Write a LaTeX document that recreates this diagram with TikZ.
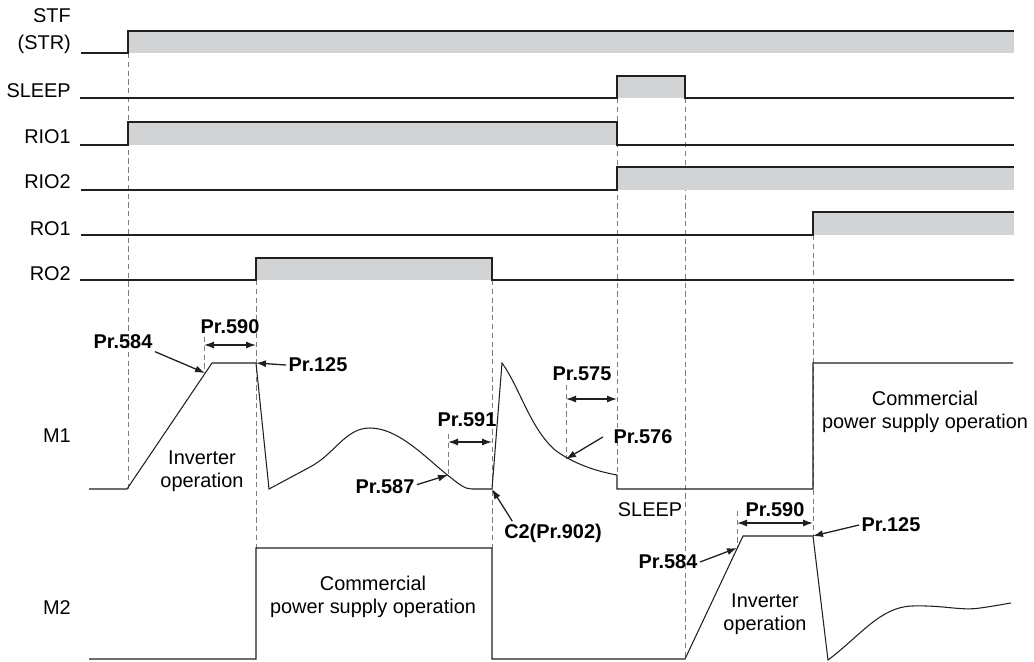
\documentclass[tikz,border=0pt]{standalone}
\usepackage{fontspec}
\setmainfont{Liberation Sans}
\usetikzlibrary{arrows.meta}
\definecolor{sigfill}{RGB}{209,211,212}
\definecolor{guidegray}{RGB}{125,125,125}
\definecolor{ink}{RGB}{35,31,32}
\tikzset{
  sig/.style={draw=ink,line width=0.9pt},
  hi/.style={fill=sigfill},
  guide/.style={draw=guidegray,line width=0.8pt,dash pattern=on 4.5pt off 3pt},
  lab/.style={anchor=east,inner sep=0pt,font=\fontsize{17}{19}\selectfont},
  txt/.style={align=center,inner sep=0pt,font=\fontsize{17}{19.5}\selectfont},
  par/.style={inner sep=2pt,font=\fontsize{17}{19}\selectfont\bfseries},
  span/.style={ink,line width=1.1pt,{Latex[length=3mm,width=2.1mm]}-{Latex[length=3mm,width=2.1mm]}},
  ptr/.style={ink,line width=1.1pt,-{Latex[length=3mm,width=2.1mm]}}
}

\begin{document}
\begin{tikzpicture}[x=0.03cm,y=-0.03cm]
    \useasboundingbox (0,0) rectangle (1034,661);
    % signal names
    \node[lab,align=right] (stf) at (71,31) {STF\\[4pt](STR)};
    \node[lab] (sleep) at (71,91) {SLEEP};
    \node[lab] (rio1) at (71,137) {RIO1}; \node[lab] (rio2) at (71,182) {RIO2};
    \node[lab] (ro1) at (71,229) {RO1}; \node[lab] (ro2) at (71,274) {RO2};
    \node[lab] (m1) at (71,436) {M1}; \node[lab] (m2) at (71,608) {M2};
    % dashed guides
    \draw[guide] (128,53) -- (128,489); \draw[guide] (256,280) -- (256,548);
    \draw[guide] (492,280) -- (492,548); \draw[guide] (617,98) -- (617,475);
    \draw[guide] (685,98) -- (685,659); \draw[guide] (813,235) -- (813,536);
    \draw[guide] (204,337) -- (204,372); \draw[guide] (448,434) -- (448,476);
    \draw[guide] (566,385) -- (566,459); \draw[guide] (737,511) -- (737,548);
    % on/off signals
    \fill[hi] (128,31) rectangle (1014,53);
    \draw[sig] (81,53) -- (128,53) -- (128,31) -- (1014,31);
    \fill[hi] (617,76) rectangle (685,98);
    \draw[sig] (80,98) -- (617,98) -- (617,76) -- (685,76) -- (685,98) -- (1014,98);
    \fill[hi] (128,122) rectangle (617,145);
    \draw[sig] (80,145) -- (128,145) -- (128,122) -- (617,122) -- (617,145) -- (1014,145);
    \fill[hi] (617,167) rectangle (1014,190);
    \draw[sig] (81,190) -- (617,190) -- (617,167) -- (1014,167);
    \fill[hi] (813,212) rectangle (1014,235);
    \draw[sig] (81,235) -- (813,235) -- (813,212) -- (1014,212);
    \fill[hi] (256,258) rectangle (492,280);
    \draw[sig] (80,280) -- (256,280) -- (256,258) -- (492,258) -- (492,280) -- (1014,280);
    % M1 speed
    \draw[sig] (89,489) -- (127,489) -- (212,363) -- (256,363) -- (269,489) -- (310,467)
      .. controls (335,454) and (345,428) .. (370,428)
      .. controls (400,428) and (430,462) .. (450,477)
      .. controls (460,485) and (465,489) .. (472,489) -- (492,489) -- (502,363)
      .. controls (520,388) and (530,428) .. (555,450)
      .. controls (575,465) and (600,472) .. (617,475) -- (617,489) -- (813,489)
      -- (813,363) -- (1013,363);
    % M2 speed
    \draw[sig] (89,659) -- (256,659) -- (256,548) -- (492,548) -- (492,659) -- (685,659)
      -- (743,536) -- (813,536) -- (828,660)
      .. controls (860,636) and (880,607) .. (912,606)
      .. controls (945,605) and (960,611) .. (980,608)
      .. controls (995,606) and (1004,604) .. (1011,603);
    % operation texts
    \node[txt] (inv1) at (202,471) {Inverter\\operation};
    \node[txt] (com2) at (373,597) {Commercial\\power supply operation};
    \node[txt] (com1) at (925,412) {Commercial\\power supply operation};
    \node[txt] (slp) at (650,510) {SLEEP};
    \node[txt] (inv2) at (765,614) {Inverter\\operation};
    % parameter labels
    \coordinate (a590l) at (204,345); \coordinate (a590r) at (256,345);
    \coordinate (a591l) at (448,442); \coordinate (a591r) at (492,442);
    \coordinate (a575l) at (566,399); \coordinate (a575r) at (617,399);
    \coordinate (b590l) at (737,523); \coordinate (b590r) at (813,523);
    \coordinate (t584a) at (205,373); \coordinate (t125a) at (256,363);
    \coordinate (t587) at (448,475); \coordinate (t902) at (492,489);
    \coordinate (t576) at (566,459); \coordinate (t584b) at (737,548);
    \coordinate (t125b) at (813,536);
    \node[par] (p584a) at (123,342) {Pr.584}; \node[par] (p590a) at (230,327) {Pr.590};
    \node[par] (p125a) at (318,365) {Pr.125}; \node[par] (p591) at (467,420) {Pr.591};
    \node[par] (p587) at (385,487) {Pr.587}; \node[par] (c2) at (553,533) {C2(Pr.902)};
    \node[par] (p575) at (582,374) {Pr.575}; \node[par] (p576) at (643,437) {Pr.576};
    \node[par] (p590b) at (775,510) {Pr.590}; \node[par] (p584b) at (668,562) {Pr.584};
    \node[par] (p125b) at (891,525) {Pr.125};
    \draw[span] (a590l) -- (a590r); \draw[span] (a591l) -- (a591r);
    \draw[span] (a575l) -- (a575r); \draw[span] (b590l) -- (b590r);
    \draw[ptr] (p584a.south east) -- (t584a); \draw[ptr] (p125a.west) -- (t125a);
    \draw[ptr] ([yshift=2pt]p587.east) -- (t587); \draw[ptr] ([xshift=9pt]c2.north west) -- (t902);
    \draw[ptr] ([xshift=-7pt]p576.west) -- (t576); \draw[ptr] (p584b.east) -- (t584b);
    \draw[ptr] (p125b.west) -- (t125b);
\end{tikzpicture}
\end{document}
